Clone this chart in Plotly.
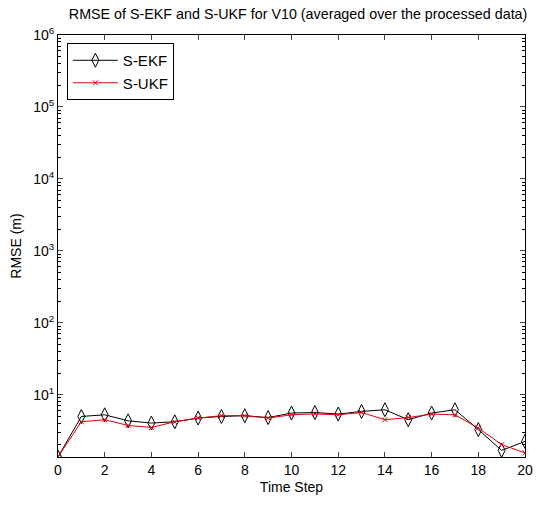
import plotly.graph_objects as go

time_step = list(range(21))
ekf_rmse = [1.36, 4.98, 5.25, 4.33, 4.03, 4.2, 4.73, 4.98, 5.1, 4.8,
            5.55, 5.65, 5.37, 5.85, 6.17, 4.49, 5.55, 6.17, 3.27, 1.68, 2.24]
ukf_rmse = [1.36, 4.2, 4.49, 3.73, 3.5, 4.2, 4.73, 5.1, 5.1, 4.73,
            5.25, 5.4, 5.25, 5.65, 4.49, 4.8, 5.37, 5.25, 3.44, 2.02, 1.55]
y_decades = [1, 2, 3, 4, 5, 6]
x_ticks = list(range(0, 21, 2))

FONT = "Liberation Sans, Arial, sans-serif"

fig = go.Figure()
fig.add_trace(go.Scatter(
    x=time_step, y=ekf_rmse, name="S-EKF", mode="lines+markers",
    line=dict(color="black", width=1),
    marker=dict(symbol="diamond-tall-open", size=10, color="black",
                line=dict(width=1, color="black")),
))
fig.add_trace(go.Scatter(
    x=time_step, y=ukf_rmse, name="S-UKF", mode="lines+markers",
    line=dict(color="#e8000b", width=1),
    marker=dict(symbol="x-thin-open", size=5, color="#e8000b",
                line=dict(width=1, color="#e8000b")),
))

minor_vals = [m * 10 ** d for d in range(0, 6) for m in range(2, 10)]

fig.update_layout(
    width=541, height=505,
    margin=dict(l=58, r=8, t=35, b=48),
    paper_bgcolor="white", plot_bgcolor="white",
    font=dict(family=FONT, size=14, color="black"),
    title=dict(text="RMSE of S-EKF and S-UKF for V10 (averaged over the processed data)",
               x=0.551, xanchor="center", y=0.972, yanchor="middle",
               font=dict(size=14.3, family=FONT)),
    showlegend=True,
    legend=dict(x=0.019, y=0.981, xanchor="left", yanchor="top",
                bordercolor="black", borderwidth=1, bgcolor="white",
                itemwidth=45,
                font=dict(size=15, family=FONT)),
    xaxis=dict(range=[0, 20], tickvals=x_ticks, ticks="inside", ticklen=5,
               showline=True, linecolor="black", linewidth=1, mirror="ticks",
               showgrid=False, zeroline=False,
               title=dict(text="Time Step", standoff=5, font=dict(size=14))),
    yaxis=dict(type="log", range=[0.1335, 6],
               tickvals=[10 ** d for d in y_decades],
               ticktext=[f"10<sup>{d}</sup>" for d in y_decades],
               ticks="inside", ticklen=5,
               minor=dict(tickvals=minor_vals, ticks="inside", ticklen=3,
                          showgrid=False, tickcolor="black"),
               showline=True, linecolor="black", linewidth=1, mirror="ticks",
               showgrid=False, zeroline=False,
               title=dict(text="RMSE (m)", standoff=8, font=dict(size=14))),
)

fig.write_html("out.html")
